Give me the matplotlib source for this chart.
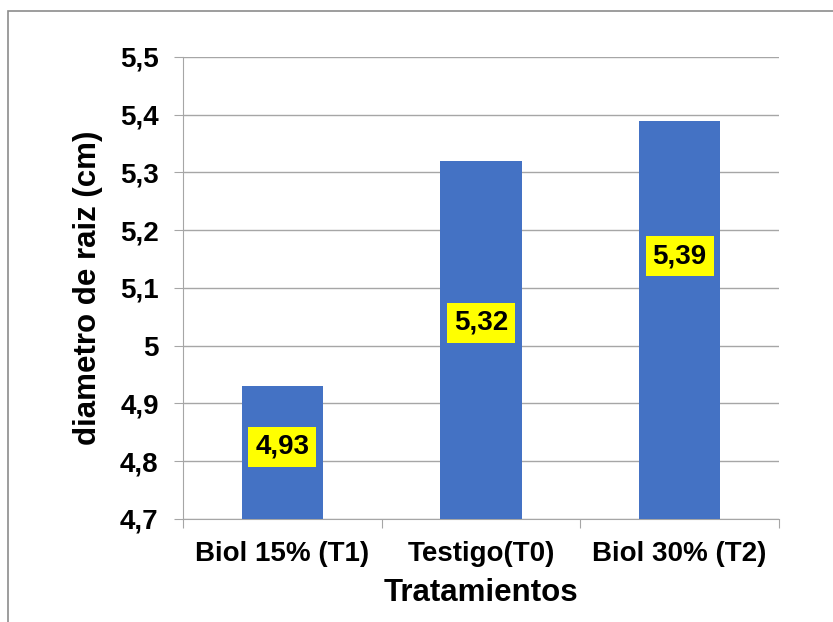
import matplotlib.pyplot as plt
from matplotlib.patches import Rectangle
from matplotlib.ticker import FixedLocator, FuncFormatter

plt.rcParams['font.family'] = ['Liberation Sans', 'DejaVu Sans']

# data
categorias = ['Biol 15% (T1)', 'Testigo(T0)', 'Biol 30% (T2)']
diametro = [4.93, 5.32, 5.39]
# where each value label sits (data units along the bar)
label_pos = [4.825, 5.04, 5.155]

fig = plt.figure(figsize=(8.33, 6.22), dpi=100)
ax = fig.add_axes([0.2197, 0.1656, 0.7155, 0.7428])

# outer chart border (right/bottom run off the picture)
fig.patches.append(Rectangle((8 / 833, -0.1), 1.2, 1 - 11 / 622 + 0.1,
                             transform=fig.transFigure, fill=False,
                             edgecolor='#8c8c8c', linewidth=1.2))

x = range(len(categorias))
ax.bar(x, [v - 4.7 for v in diametro], bottom=4.7, width=0.41,
       color='#4472C4', zorder=3)

for xi, v, yp in zip(x, diametro, label_pos):
    ax.text(xi, yp, f'{v:.2f}'.replace('.', ','), ha='center', va='center',
            fontsize=20, fontweight='bold', zorder=4,
            bbox=dict(boxstyle='square,pad=0.25', facecolor='yellow',
                      edgecolor='none'))

ax.set_xlim(-0.5, 2.5)
ax.set_ylim(4.7, 5.5)
yticks = [4.7 + 0.1 * i for i in range(9)]
ax.yaxis.set_major_locator(FixedLocator(yticks))
ax.yaxis.set_major_formatter(FuncFormatter(
    lambda v, p: '5' if abs(v - 5) < 1e-6 else f'{v:.1f}'.replace('.', ',')))
ax.grid(axis='y', color='#a6a6a6', linewidth=1, zorder=0)

ax.set_xticks([-0.5, 0.5, 1.5, 2.5])
ax.set_xticklabels([])
ax.set_xticks(list(x), minor=True)
ax.set_xticklabels(categorias, minor=True, fontsize=20, fontweight='bold')
ax.tick_params(axis='x', which='major', length=6.5, color='#a6a6a6')
ax.tick_params(axis='x', which='minor', length=0, pad=16)
ax.tick_params(axis='y', length=6.5, color='#a6a6a6', labelsize=20, pad=11)
for lab in ax.get_yticklabels():
    lab.set_fontweight('bold')

for s in ['top', 'right']:
    ax.spines[s].set_visible(False)
ax.spines['left'].set_color('#a6a6a6')
ax.spines['bottom'].set_color('#a6a6a6')

ax.set_ylabel('diametro de raiz (cm)', fontsize=22.5, fontweight='bold', labelpad=12)
ax.set_xlabel('Tratamientos', fontsize=22.5, fontweight='bold', labelpad=8)

fig.savefig('out.png', dpi=100)
